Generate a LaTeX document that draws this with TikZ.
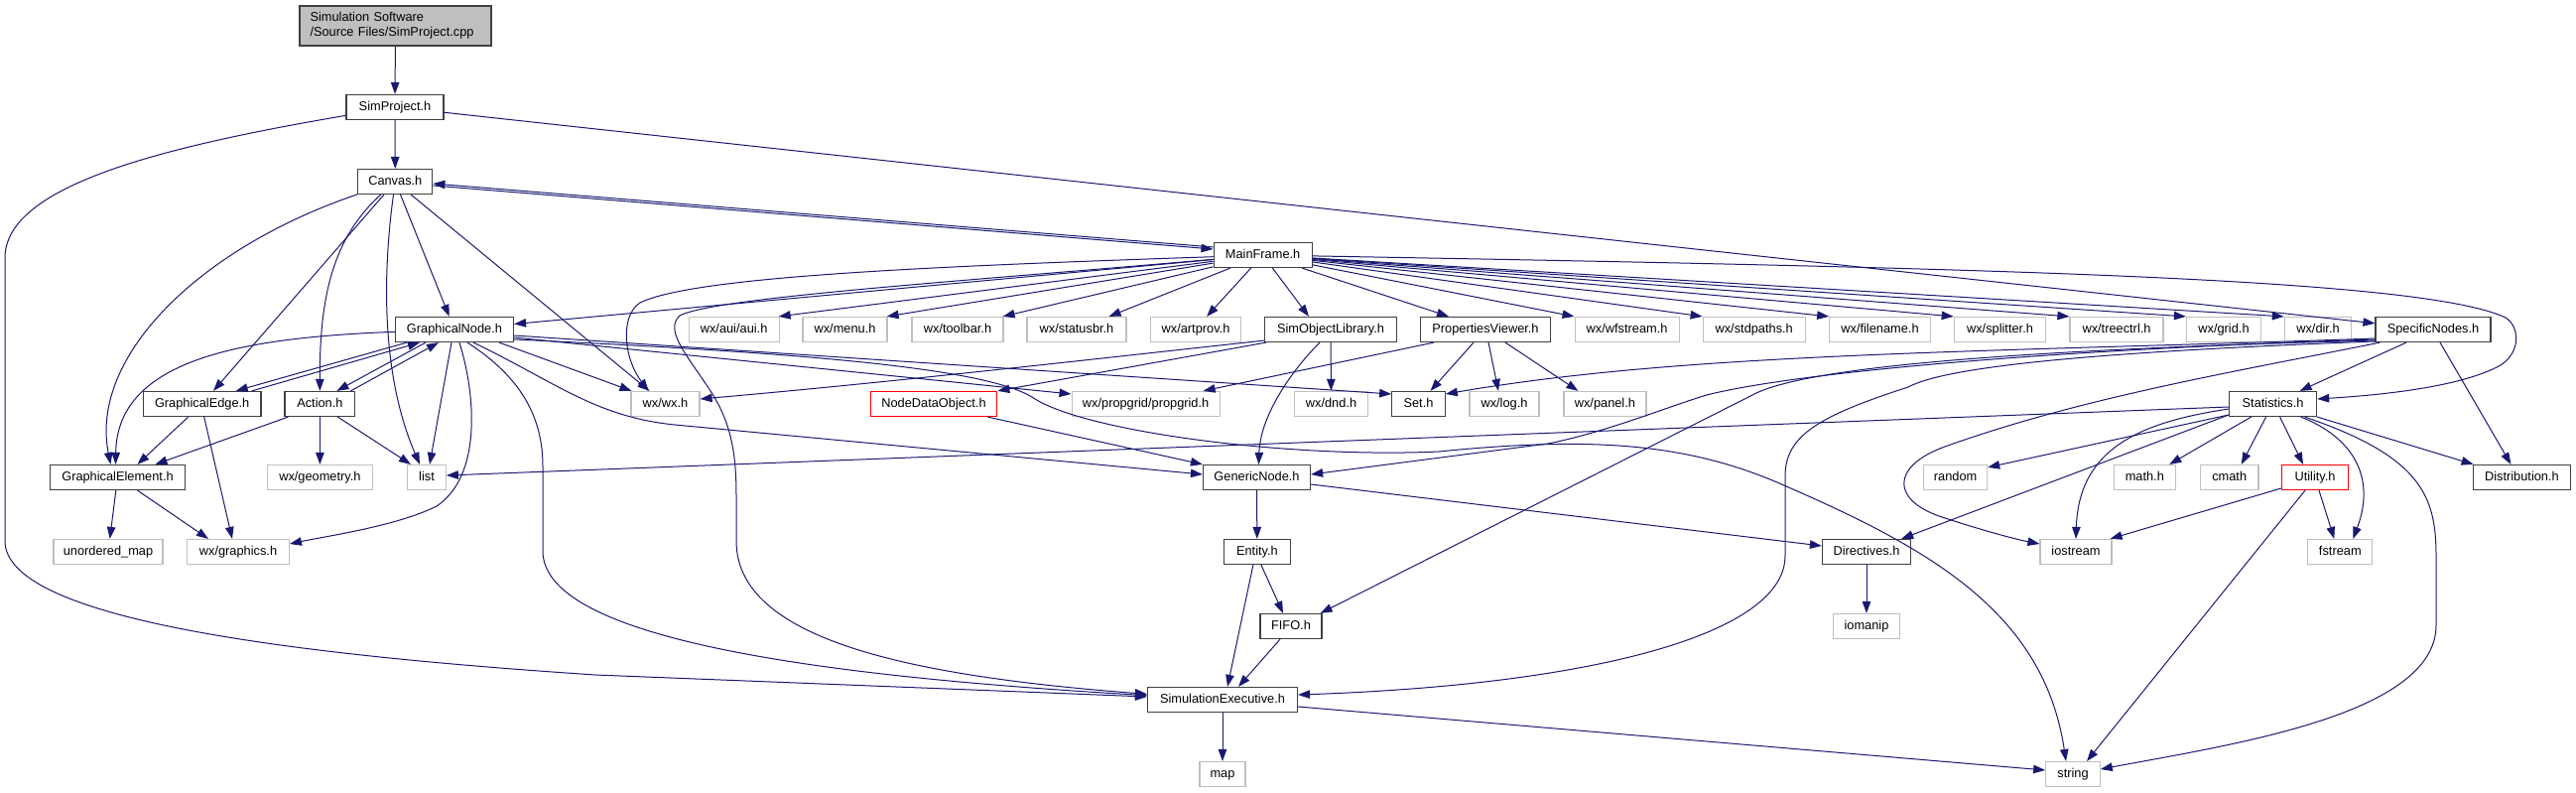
\documentclass[tikz,border=0pt]{standalone}
\usepackage{fontspec}
\setmainfont{Liberation Sans}
\usetikzlibrary{arrows.meta}
\definecolor{edgec}{HTML}{191970}
\definecolor{docb}{HTML}{404040}
\definecolor{extb}{HTML}{BFBFBF}
\definecolor{rootf}{HTML}{BFBFBF}
\tikzset{
  nbase/.style={fill=white, line width=1.2pt, inner sep=0pt, font=\fontsize{12.8}{15}\selectfont},
  fbox/.style={nbase, draw=docb, minimum height=25pt, text height=9.2pt, text depth=2.6pt},
  xbox/.style={fbox, draw=extb},
  rbox/.style={fbox, draw=red},
  dep/.style={draw=edgec, line width=1pt, -{Triangle[length=12pt,width=8.5pt]}},
}
\begin{document}
\begin{tikzpicture}[x=1pt,y=-1pt]
\useasboundingbox (0,0) rectangle (2596,799);
% rank 0-3
\node[nbase, draw=docb, fill=rootf, minimum width=193pt, minimum height=40pt, text width=172pt, align=left] (root) at (398.5,26) {Simulation Software\\/Source Files/SimProject.cpp};
\node[fbox, minimum width=98pt] (simproj) at (398,108) {SimProject.h};
\node[fbox, minimum width=75pt] (canvas) at (398.3,183) {Canvas.h};
\node[fbox, minimum width=99pt] (mainframe) at (1272.6,257) {MainFrame.h};
% rank 332
\node[fbox, minimum width=119pt] (gnode) at (458,332) {GraphicalNode.h};
\node[xbox, minimum width=91pt] (aui) at (739.6,332) {wx/aui/aui.h};
\node[xbox, minimum width=85pt] (menu) at (851.5,332) {wx/menu.h};
\node[xbox, minimum width=92pt] (toolbar) at (965,332) {wx/toolbar.h};
\node[xbox, minimum width=100pt] (statusbr) at (1085,332) {wx/statusbr.h};
\node[xbox, minimum width=91pt] (artprov) at (1205,332) {wx/artprov.h};
\node[fbox, minimum width=133pt] (simobjlib) at (1341,332) {SimObjectLibrary.h};
\node[fbox, minimum width=131pt] (propview) at (1497,332) {PropertiesViewer.h};
\node[xbox, minimum width=105pt] (wfstream) at (1639.6,332) {wx/wfstream.h};
\node[xbox, minimum width=103pt] (stdpaths) at (1767.7,332) {wx/stdpaths.h};
\node[xbox, minimum width=101.5pt] (filename) at (1894.5,332) {wx/filename.h};
\node[xbox, minimum width=92.4pt] (splitter) at (2015.5,332) {wx/splitter.h};
\node[xbox, minimum width=94pt] (treectrl) at (2133,332) {wx/treectrl.h};
\node[xbox, minimum width=75pt] (grid) at (2241,332) {wx/grid.h};
\node[xbox, minimum width=67.4pt] (dir) at (2336,332) {wx/dir.h};
\node[fbox, minimum width=116pt] (specnodes) at (2452,332) {SpecificNodes.h};
% rank 407
\node[fbox, minimum width=118.6pt] (gedge) at (203.7,407) {GraphicalEdge.h};
\node[fbox, minimum width=70.8pt] (action) at (322.4,407) {Action.h};
\node[xbox, minimum width=69pt] (wxwx) at (670.5,407) {wx/wx.h};
\node[rbox, minimum width=127.5pt] (nodedata) at (941,407) {NodeDataObject.h};
\node[xbox, minimum width=149pt] (propgrid) at (1154.6,407) {wx/propgrid/propgrid.h};
\node[xbox, minimum width=74.5pt] (dnd) at (1341.5,407) {wx/dnd.h};
\node[fbox, minimum width=53.5pt] (set) at (1429.5,407) {Set.h};
\node[xbox, minimum width=70pt] (log) at (1516,407) {wx/log.h};
\node[xbox, minimum width=83pt] (panel) at (1617.4,407) {wx/panel.h};
\node[fbox, minimum width=88pt] (stats) at (2290.6,407) {Statistics.h};
% rank 481
\node[fbox, minimum width=136pt] (gelem) at (118.5,481) {GraphicalElement.h};
\node[xbox, minimum width=106pt] (geometry) at (322.4,481) {wx/geometry.h};
\node[xbox, minimum width=38.5pt] (list) at (430,481) {list};
\node[fbox, minimum width=108pt] (generic) at (1266.5,481) {GenericNode.h};
\node[xbox, minimum width=64pt] (random) at (1970.6,481) {random};
\node[xbox, minimum width=62pt] (mathh) at (2161.3,481) {math.h};
\node[xbox, minimum width=58.6pt] (cmath) at (2246.7,481) {cmath};
\node[rbox, minimum width=67pt] (utility) at (2333,481) {Utility.h};
\node[fbox, minimum width=98.4pt] (distrib) at (2541.4,481) {Distribution.h};
% rank 556
\node[xbox, minimum width=110pt] (unmap) at (109,556) {unordered\_map};
\node[xbox, minimum width=102.7pt] (graphics) at (240,556) {wx/graphics.h};
\node[fbox, minimum width=67pt] (entity) at (1266.9,556) {Entity.h};
\node[fbox, minimum width=89pt] (directives) at (1881,556) {Directives.h};
\node[xbox, minimum width=72pt] (iostream) at (2092,556) {iostream};
\node[xbox, minimum width=65pt] (fstream) at (2358.3,556) {fstream};
% rank 631
\node[fbox, minimum width=62pt] (fifo) at (1301,631) {FIFO.h};
\node[xbox, minimum width=66.5pt] (iomanip) at (1881,631) {iomanip};
% rank 705, 780
\node[fbox, minimum width=151pt] (simexec) at (1232,705) {SimulationExecutive.h};
\node[xbox, minimum width=46pt] (map) at (1232,780) {map};
\node[xbox, minimum width=54.5pt] (string) at (2089,780) {string};

% ---- edges ----
\draw[dep] (root) -- (simproj);
\draw[dep] (simproj) -- (canvas);
\draw[dep] (simproj) -- (specnodes);
\draw[dep] (simproj) .. controls (150,150) and (5,190) .. (5,260) -- (5,545) .. controls (5,625) and (300,660) .. (600,680) -- (simexec);

% Canvas
\draw[dep] (canvas) .. controls (200,250) and (90,360) .. ([xshift=-7pt]gelem.north);
\draw[dep] (canvas) -- (gedge);
\draw[dep] (canvas) .. controls (335,240) and (322,300) .. (action);
\draw[dep] (canvas) .. controls (385,280) and (385,380) .. ([xshift=-7pt]list.north);
\draw[dep] (canvas) -- (gnode);
\draw[dep] (canvas) -- ([xshift=-16pt]wxwx.north);
\draw[dep] ([yshift=-4pt]canvas.east) -- ([yshift=6pt]mainframe.west);
\draw[dep] ([yshift=8pt]mainframe.west) -- ([yshift=-2pt]canvas.east);

% MainFrame
\draw[dep] (mainframe) -- (gnode);
\draw[dep] (mainframe) .. controls (950,268) and (700,278) .. (645,305) .. controls (625,318) and (628,360) .. ([xshift=-17pt]wxwx.north);
\draw[dep] (mainframe) .. controls (950,285) and (720,300) .. (685,318) .. controls (670,332) and (690,355) .. (710,385) .. controls (735,420) and (742,450) .. (742,500) -- (742,545) .. controls (742,640) and (900,680) .. (simexec);
\draw[dep] (mainframe) -- ([xshift=-1pt]aui.north east);
\draw[dep] (mainframe) -- ([xshift=-1pt]menu.north east);
\draw[dep] (mainframe) -- ([xshift=-1pt]toolbar.north east);
\draw[dep] (mainframe) -- ([xshift=-18pt]statusbr.north east);
\draw[dep] (mainframe) -- ([xshift=-35pt]artprov.north east);
\draw[dep] (mainframe) -- ([xshift=-22pt]simobjlib.north);
\draw[dep] (mainframe) -- ([xshift=-37pt]propview.north);
\draw[dep] (mainframe) -- (wfstream.north west);
\draw[dep] (mainframe) -- (stdpaths.north west);
\draw[dep] (mainframe) -- (filename.north west);
\draw[dep] (mainframe) -- (splitter.north west);
\draw[dep] (mainframe) -- (treectrl.north west);
\draw[dep] (mainframe) -- (grid.north west);
\draw[dep] (mainframe) -- (dir.north west);
\draw[dep] (mainframe) .. controls (2000,270) and (2440,280) .. (2525,320) .. controls (2540,330) and (2540,355) .. (2520,368) .. controls (2480,390) and (2400,398) .. ([yshift=5pt]stats.east);

% GraphicalNode
\draw[dep] (gnode) .. controls (250,340) and (118,360) .. ([xshift=-2pt]gelem.north);
\draw[dep] ([xshift=-48pt]gnode.south) -- ([xshift=34pt]gedge.north);
\draw[dep] ([xshift=50pt]gedge.north) -- ([xshift=-35pt]gnode.south);
\draw[dep] ([xshift=-29pt]gnode.south) -- ([xshift=17pt]action.north);
\draw[dep] ([xshift=31pt]action.north) -- ([xshift=-16pt]gnode.south);
\draw[dep] ([xshift=-3pt]gnode.south) -- ([xshift=3pt]list.north);
\draw[dep] ([xshift=5pt]gnode.south) .. controls (480,400) and (485,480) .. (440,510) .. controls (400,530) and (330,540) .. ([yshift=8pt]graphics.east);
\draw[dep] ([xshift=13pt]gnode.south) .. controls (525,380) and (547,420) .. (547,470) -- (547,555) .. controls (547,640) and (800,680) .. (simexec);
\draw[dep] ([xshift=19pt]gnode.south) .. controls (560,385) and (600,420) .. (680,428) -- ([yshift=3pt]generic.west);
\draw[dep] ([xshift=45pt]gnode.south) -- ([xshift=1pt]wxwx.north west);
\draw[dep] ([yshift=-6pt]gnode.east) -- ([yshift=10pt]set.west);
\draw[dep] ([yshift=-8pt]gnode.east) -- ([yshift=10pt]propgrid.west);
\draw[dep] ([yshift=-10pt]gnode.east) .. controls (800,355) and (990,370) .. (1040,400) .. controls (1090,435) and (1300,462) .. (1450,455) .. controls (1600,440) and (1700,445) .. (1800,490) .. controls (1950,555) and (2060,620) .. ([xshift=-7pt]string.north);

% GraphicalEdge, Action, GraphicalElement
\draw[dep] ([xshift=-14pt]gedge.south) -- ([xshift=20pt]gelem.north);
\draw[dep] ([xshift=2pt]gedge.south) -- ([xshift=-6pt]graphics.north);
\draw[dep] ([xshift=-32pt]action.south) -- ([xshift=38pt]gelem.north);
\draw[dep] (action) -- (geometry);
\draw[dep] ([xshift=18pt]action.south) -- ([xshift=-16pt]list.north);
\draw[dep] (gelem) -- (unmap);
\draw[dep] ([xshift=20pt]gelem.south) -- ([xshift=-30pt]graphics.north);

% SimObjectLibrary
\draw[dep] ([xshift=2pt]simobjlib.south west) -- (nodedata.north east);
\draw[dep] ([yshift=2pt]simobjlib.south west) .. controls (1100,362) and (900,385) .. ([yshift=5pt]wxwx.east);
\draw[dep] (simobjlib) -- (dnd);
\draw[dep] ([xshift=-11pt]simobjlib.south) .. controls (1300,375) and (1270,420) .. ([xshift=2pt]generic.north);

% PropertiesViewer
\draw[dep] ([xshift=-52pt]propview.south) -- ([xshift=58pt]propgrid.north);
\draw[dep] ([xshift=-12pt]propview.south) -- ([xshift=12pt]set.north);
\draw[dep] ([xshift=3pt]propview.south) -- ([xshift=-6pt]log.north);
\draw[dep] ([xshift=20pt]propview.south) -- ([xshift=-27pt]panel.north);

% SpecificNodes
\draw[dep] ([xshift=-27pt]specnodes.south) -- ([xshift=27pt]stats.north);
\draw[dep] ([xshift=7pt]specnodes.south) -- ([xshift=-11pt]distrib.north);
\draw[dep] ([yshift=-9pt]specnodes.west) .. controls (2000,355) and (1700,355) .. ([yshift=10pt]set.east);
\draw[dep] ([yshift=-10pt]specnodes.west) .. controls (2000,355) and (1790,380) .. (1720,398) .. controls (1680,410) and (1620,435) .. (1560,447) -- ([yshift=3pt]generic.east);
\draw[dep] ([yshift=-11pt]specnodes.west) .. controls (2050,352) and (1830,368) .. (1770,396) -- ([xshift=-2pt]fifo.north east);
\draw[dep] ([yshift=-12pt]specnodes.west) .. controls (2100,355) and (1960,370) .. (1923,390) .. controls (1830,420) and (1799,440) .. (1799,480) -- (1799,560) .. controls (1799,640) and (1600,690) .. ([yshift=5pt]simexec.east);
\draw[dep] ([xshift=5pt]specnodes.south west) .. controls (2250,375) and (2100,400) .. (1960,450) .. controls (1905,470) and (1905,505) .. (1960,522) .. controls (2000,535) and (2030,543) .. ([yshift=8pt]iostream.west);

% Statistics
\draw[dep] ([yshift=-3pt]stats.west) -- ([yshift=2pt]list.east);
\draw[dep] ([yshift=-11pt]stats.west) -- ([yshift=-3pt]random.north east);
\draw[dep] ([xshift=-22pt]stats.south) -- ([xshift=25pt]mathh.north);
\draw[dep] ([xshift=-7pt]stats.south) -- ([xshift=12pt]cmath.north);
\draw[dep] ([xshift=7pt]stats.south) -- ([xshift=-12pt]utility.north);
\draw[dep] (stats.south east) -- ([xshift=1pt]distrib.north west);
\draw[dep] ([yshift=-5pt]stats.west) .. controls (2160,425) and (2095,450) .. (iostream.north);
\draw[dep] ([xshift=28pt]stats.south) .. controls (2370,440) and (2395,480) .. ([xshift=13pt]fstream.north);
\draw[dep] ([xshift=32pt]stats.south) .. controls (2440,460) and (2455,500) .. (2455,560) -- (2455,630) .. controls (2455,720) and (2250,750) .. ([yshift=5pt]string.east);
\draw[dep] ([yshift=-11pt]stats.west) -- ([xshift=-10pt]directives.north east);

% Utility
\draw[dep] ([yshift=-11pt]utility.west) -- ([xshift=-2pt]iostream.north east);
\draw[dep] ([xshift=4pt]utility.south) -- ([xshift=-6pt]fstream.north);
\draw[dep] ([xshift=-10pt]utility.south) -- ([xshift=14pt]string.north);

% lower part
\draw[dep] ([xshift=-10pt]nodedata.south east) -- (generic.north west);
\draw[dep] (generic) -- (entity);
\draw[dep] ([yshift=-7pt]generic.east) -- ([yshift=6pt]directives.west);
\draw[dep] ([xshift=4pt]entity.south) -- ([xshift=-8pt]fifo.north);
\draw[dep] ([xshift=-4pt]entity.south) -- ([xshift=5pt]simexec.north);
\draw[dep] ([xshift=-11pt]fifo.south) -- ([xshift=16pt]simexec.north);
\draw[dep] (simexec) -- (map);
\draw[dep] ([yshift=-7pt]simexec.east) -- ([yshift=4pt]string.west);
\draw[dep] (directives) -- (iomanip);
\end{tikzpicture}
\end{document}
